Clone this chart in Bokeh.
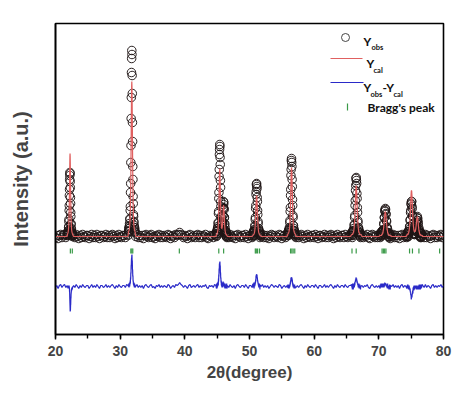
import numpy as np
from bokeh.plotting import figure
from bokeh.models import Label, BoxAnnotation, Range1d, SingleIntervalTicker, FixedTicker
from bokeh.embed import file_html
from bokeh.resources import INLINE

# ---------------- data (intensity in a.u.) ----------------
BACKGROUND = 98          # fitted (flat) background level of Y_cal
DIFF_OFFSET = 48         # vertical offset at which Yobs-Ycal is drawn
BRAGG_LOW, BRAGG_HIGH = 81, 86   # row where the Bragg ticks are drawn

# Bragg reflection positions (2theta, degree)
bragg_peaks = [22.30, 22.60, 31.65, 31.80, 31.95, 39.15, 45.25, 46.00, 50.90, 51.05,
               51.25, 51.55, 56.35, 56.55, 56.75, 57.00, 65.85, 66.50, 70.50, 70.70,
               70.90, 71.10, 74.75, 75.20, 76.20, 79.40]

# peak regions: start angle, step, observed and calculated intensities
p1_start, p1_step = 21.85, 0.02
p1_obs = [99,101,100,102,100,103,101,104,104,107,108,113,115,124,129,139,145,155,159,162,161,
          153,147,137,131,122,118,111,110,105,106,102,103,100,102,99,101,100,98,101,99]
p1_cal = [100,101,101,101,102,102,103,104,105,107,109,112,117,123,130,140,150,161,171,178,181,
          178,171,161,150,140,130,123,117,112,109,107,105,104,103,102,102,101,101,101,100]

p2_start, p2_step = 31.30, 0.025
p2_obs = [103,106,104,103,108,106,111,109,115,116,124,128,142,151,172,189,216,237,262,276,284,
          280,259,241,212,193,168,155,138,131,120,118,112,113,107,109,104,107,103,105,102]
p2_cal = [103,103,104,104,105,106,107,109,111,114,118,125,133,144,158,176,195,215,234,248,253,
          248,234,215,195,176,158,144,133,125,118,114,111,109,107,106,105,104,104,103,103]

p3_start, p3_step = 44.90, 0.025
p3_obs = [98,103,101,99,104,101,106,103,108,106,112,111,121,123,136,142,158,165,180,185,190,
          188,177,170,154,147,133,128,118,117,110,112,106,110,105,110,107,113,112,119,119,
          127,126,133,130,132,126,125,117,117,110,111,104,107,101,104,100,103,99,102,98,
          101,98,102,97]
p3_cal = [100,100,101,101,101,102,102,103,104,105,107,110,113,118,124,132,140,149,157,163,166,
          163,157,149,141,133,125,119,114,111,109,107,106,106,106,107,108,110,112,115,119,
          122,126,129,129,128,126,122,118,114,111,108,106,104,103,102,101,101,100,100,100,
          100,100,99,99]

p4_start, p4_step = 50.50, 0.03
p4_obs = [101,98,102,99,103,100,104,99,103,105,103,109,108,115,117,126,129,140,143,150,151,
          148,146,137,133,124,120,113,111,106,106,101,104,100,103,99,102,97,101,99,100]
p4_cal = [99,99,99,100,100,100,100,101,101,102,103,105,107,110,114,119,124,129,134,138,139,
          138,134,129,124,119,114,110,107,105,103,102,101,101,100,100,100,100,99,99,99]

p5_start, p5_step = 55.90, 0.03
p5_obs = [99,102,100,103,99,104,101,105,102,107,106,112,114,123,127,139,145,159,165,174,176,
          172,168,155,148,135,129,119,117,109,109,104,106,101,104,100,103,99,101,98,100]
p5_cal = [100,100,101,101,101,102,102,103,104,105,107,110,114,119,125,133,141,150,159,165,167,
          165,159,150,141,133,125,119,114,110,107,105,104,103,102,102,101,101,101,100,100]

p6_start, p6_step = 65.80, 0.035
p6_obs = [102,99,101,97,103,100,104,99,103,106,104,110,109,117,119,129,134,144,149,156,157,
          154,151,141,136,127,122,114,112,106,107,102,105,100,103,99,102,98,101,97,100]
p6_cal = [100,100,100,100,100,101,101,102,102,103,105,107,110,113,118,124,130,137,143,147,149,
          147,143,137,130,124,118,113,110,107,105,103,102,102,101,101,100,100,100,100,100]

p7_start, p7_step = 70.20, 0.04
p7_obs = [97,101,99,102,98,100,103,99,102,100,104,101,105,104,111,110,117,117,124,123,126,
          125,121,120,114,113,107,107,102,105,100,102,98,101,97,100,98,101,99,96,100]
p7_cal = [99,99,99,99,99,99,100,100,100,101,101,102,104,105,108,111,114,117,120,122,123,
          122,120,117,114,111,108,105,104,102,101,101,100,100,100,99,99,99,99,99,99]

p8_start, p8_step = 74.33, 0.036
p8_obs = [97,101,98,102,99,103,100,98,103,101,105,103,108,108,114,115,122,124,131,130,133,
          133,128,126,119,118,110,111,105,107,101,105,100,104,100,104,101,105,103,108,107,
          112,111,117,114,118,114,116,110,112,105,107,102,105,99,103,98,102,97,101,98,
          101,97,100,98,101]
p8_cal = [99,100,100,100,100,101,101,101,102,103,104,106,109,112,116,121,127,133,139,143,144,
          143,139,133,127,122,117,112,109,107,105,104,103,103,103,103,103,104,105,107,109,
          111,114,116,117,118,117,116,113,111,108,106,104,103,102,101,100,100,100,100,99,
          99,99,99,99,99]

# background regions between the peaks: start angle, observed intensities (step BASE_STEP)
b1_start = 20.0
b1_obs = [97,99,96,99,100,97,99,100,97,99]
b2_start = 22.8
b2_obs = [99,97,100,98,96,99,97,100,98,97,99,99,96,98,100,97,99,97,100,98,96,99,99,97,
          98,100,97,99,97,99,100,98,96,99,97,100,98,97,99,99,97,100,99]
b3_start = 32.4
b3_obs = [98,100,97,99,97,99,96,99,100,98,97,99,100,97,98,96,99,98,100,97,99,97,99,98,
          97,100,99,96,98,99,97,100,99,100,102,100,99,97,99,98,96,99,100,97,98,99,97,99,
          100,97,99,97,99,98,100,97,96,99,98,99,97,100,99]
b4_start = 46.6
b4_obs = [99,97,100,98,97,99,96,99,100,98,97,99,99,97,100,98,96,99,99,97]
b5_start = 51.8
b5_obs = [98,100,97,99,97,99,96,98,100,99,97,99,98,97,100,99,96,98,99,97,99]
b6_start = 57.2
b6_obs = [97,99,97,99,100,98,96,99,97,100,98,97,99,99,97,100,98,96,99,99,97,98,100,97,
          99,97,99,100,98,96,99,97,100,98,97,99,99,97,100,98,97,99,99]
b7_start = 67.4
b7_obs = [99,97,99,98,100,97,96,99,100,98,97,99,97,99]
b8_start = 72.0
b8_obs = [98,100,97,99,97,99,96,99,100,97,99,98]
b9_start = 76.8
b9_obs = [99,97,100,97,99,98,96,99,100,97,99,97,99,98,100,97,99]
BASE_STEP = 0.2

# ---------------- assemble the pattern ----------------
peak_regions = [(p1_start, p1_step, p1_obs, p1_cal), (p2_start, p2_step, p2_obs, p2_cal),
                (p3_start, p3_step, p3_obs, p3_cal), (p4_start, p4_step, p4_obs, p4_cal),
                (p5_start, p5_step, p5_obs, p5_cal), (p6_start, p6_step, p6_obs, p6_cal),
                (p7_start, p7_step, p7_obs, p7_cal), (p8_start, p8_step, p8_obs, p8_cal)]
base_regions = [(b1_start, b1_obs), (b2_start, b2_obs), (b3_start, b3_obs), (b4_start, b4_obs),
                (b5_start, b5_obs), (b6_start, b6_obs), (b7_start, b7_obs), (b8_start, b8_obs),
                (b9_start, b9_obs)]

xs, yo, yc = [], [], []
for start, step, o, c in peak_regions:
    xs.append(start + step * np.arange(len(o)))
    yo.append(np.array(o, float))
    yc.append(np.array(c, float))
for start, o in base_regions:
    xs.append(start + BASE_STEP * np.arange(len(o)))
    yo.append(np.array(o, float))
    yc.append(np.full(len(o), float(BACKGROUND)))
x = np.concatenate(xs)
order = np.argsort(x)
x = x[order]
y_obs = np.concatenate(yo)[order]
y_cal = np.concatenate(yc)[order]
y_diff = y_obs - y_cal + DIFF_OFFSET

# ---------------- figure ----------------
p = figure(width=466, height=385, x_range=Range1d(20, 80), y_range=Range1d(0, 311),
           output_backend="svg", toolbar_location=None,
           min_border_left=55, min_border_right=23, min_border_top=23, min_border_bottom=51)
p.grid.visible = False
p.outline_line_color = "black"
p.outline_line_width = 1.6
p.background_fill_color = "white"
p.border_fill_color = "white"

p.scatter(x, y_obs, marker="circle", size=8.5, fill_color=None,
          line_color="#1e1414", line_width=1, line_alpha=0.95)
p.line(x, y_cal, line_color="#e06060", line_width=1.2)
p.line(x, y_diff, line_color="#2a2ac8", line_width=1.2)
p.segment(x0=bragg_peaks, y0=BRAGG_LOW, x1=bragg_peaks, y1=BRAGG_HIGH,
          line_color="#3a9a48", line_width=1.2)

xa = p.xaxis[0]
xa.ticker = SingleIntervalTicker(interval=10, num_minor_ticks=2)
xa.axis_label = "2θ(degree)"
xa.axis_label_text_font = "Liberation Sans"
xa.axis_label_text_font_style = "bold"
xa.axis_label_text_font_size = "17px"
xa.axis_label_standoff = 4
xa.major_label_text_font = "Liberation Sans"
xa.major_label_text_font_style = "bold"
xa.major_label_text_font_size = "14px"
xa.major_label_standoff = 6
xa.major_tick_in = 0
xa.major_tick_out = 5
xa.minor_tick_in = 0
xa.minor_tick_out = 4
xa.axis_line_width = 1.6
xa.major_tick_line_width = 1.4
xa.minor_tick_line_width = 1.4

ya = p.yaxis[0]
ya.ticker = FixedTicker(ticks=[])
ya.axis_label = "Intensity (a.u.)"
ya.axis_label_text_font = "Liberation Sans"
ya.axis_label_text_font_style = "bold"
ya.axis_label_text_font_size = "20px"
ya.axis_label_standoff = 24
ya.major_tick_out = 0
ya.minor_tick_out = 0
ya.axis_line_width = 1.6

# ---------------- legend (drawn by hand to allow subscripts) ----------------
LF = "Lato"
def txt(sx, sy, s, size):
    p.add_layout(Label(x=sx, y=sy, x_units="screen", y_units="screen", text=s,
                       text_font=LF, text_font_style="bold", text_font_size=size,
                       text_color="#111111", text_baseline="alphabetic", text_align="left"))

p.add_layout(BoxAnnotation(left=286, right=294, bottom=293, top=301,
                           left_units="screen", right_units="screen",
                           top_units="screen", bottom_units="screen",
                           border_radius=4, fill_color=None, fill_alpha=0,
                           line_color="#333333", line_width=1, line_alpha=0.9))
p.add_layout(BoxAnnotation(left=275, right=307, bottom=275.4, top=276.6,
                           left_units="screen", right_units="screen",
                           top_units="screen", bottom_units="screen",
                           fill_color="#e06060", fill_alpha=1, line_alpha=0))
p.add_layout(BoxAnnotation(left=275, right=308, bottom=251.4, top=252.6,
                           left_units="screen", right_units="screen",
                           top_units="screen", bottom_units="screen",
                           fill_color="#2a2ac8", fill_alpha=1, line_alpha=0))
p.add_layout(BoxAnnotation(left=291.4, right=292.6, bottom=224, top=231,
                           left_units="screen", right_units="screen",
                           top_units="screen", bottom_units="screen",
                           fill_color="#3a9a48", fill_alpha=1, line_alpha=0))

txt(308, 293, "Y", "12px"); txt(316, 287, "obs", "7.5px")
txt(311, 271, "Y", "12px"); txt(318, 264, "cal", "7.5px")
txt(308, 247, "Y", "12px"); txt(315, 240, "obs", "7.5px")
txt(327, 247, "-Y", "12px"); txt(338, 240, "cal", "7.5px")
txt(312, 227, "Bragg's peak", "12px")

open("out.html", "w").write(file_html(p, INLINE))
